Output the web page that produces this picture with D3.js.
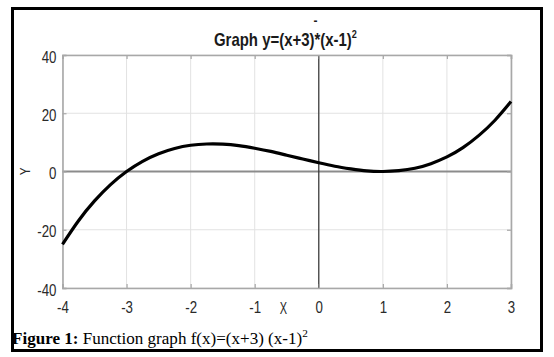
<!DOCTYPE html>
<html>
<head>
<meta charset="utf-8">
<script src="https://cdn.jsdelivr.net/npm/d3@7"></script>
<style>
  html, body { margin: 0; padding: 0; background: #fff; }
  svg { display: block; }
</style>
</head>
<body>
<svg id="chart" width="554" height="357"></svg>
<script>
// ---- data ----
const xValues = [-4, -3.75, -3.5, -3.25, -3, -2.75, -2.5, -2.25, -2, -1.75, -1.5, -1.25, -1, -0.75, -0.5, -0.25, 0, 0.25, 0.5, 0.75, 1, 1.25, 1.5, 1.75, 2, 2.25, 2.5, 2.75, 3];
const yValues = [-25, -16.9, -10.1, -4.5, 0, 3.5, 6.1, 7.9, 9, 9.45, 9.4, 8.9, 8, 6.9, 5.6, 4.3, 3, 1.8, 0.9, 0.2, 0, 0.3, 1.1, 2.7, 5, 8.2, 12.4, 17.6, 24];
const xTicks = [-4, -3, -2, -1, 0, 1, 2, 3];
const yTicks = [-40, -20, 0, 20, 40];
const titleMain = "Graph y=(x+3)*(x-1)";
const titleSup = "2";
const xLabel = "X";
const yLabel = "Y";
const captionBold = "Figure 1:";
const captionText = " Function graph f(x)=(x+3) (x-1)";
const captionSup = "2";

(function () {
const svg = d3.select("#chart");
const sans = "'Liberation Sans Narrow', 'Arial Narrow', 'Liberation Sans', Arial, sans-serif";
const NX = 0.83; // horizontal squeeze to imitate a narrow face

const pL = 62.5, pR = 511, pT = 55, pB = 288;
const x = d3.scaleLinear().domain([-4, 3]).range([pL, pR]);
const y = d3.scaleLinear().domain([-40, 40]).range([pB, pT]);

// outer frame
svg.append("rect").attr("x", 12.5).attr("y", 8.5).attr("width", 529).attr("height", 342)
  .attr("fill", "none").attr("stroke", "#000").attr("stroke-width", 3);

// grid
const g = svg.append("g");
g.selectAll(".vg").data(xTicks).join("line")
  .attr("x1", d => x(d)).attr("x2", d => x(d)).attr("y1", pT).attr("y2", pB)
  .attr("stroke", "#e2e2e2").attr("stroke-width", 1);
g.selectAll(".hg").data(yTicks).join("line")
  .attr("y1", d => y(d)).attr("y2", d => y(d)).attr("x1", pL).attr("x2", pR)
  .attr("stroke", "#e2e2e2").attr("stroke-width", 1);

// axis lines through origin
svg.append("line").attr("x1", pL).attr("x2", pR).attr("y1", y(0)).attr("y2", y(0))
  .attr("stroke", "#8c8c8c").attr("stroke-width", 2);
svg.append("line").attr("x1", x(0)).attr("x2", x(0)).attr("y1", pT).attr("y2", pB)
  .attr("stroke", "#333").attr("stroke-width", 1.2);

// axes box with inward ticks using d3 axes
const fmt = d => String(d);
const axB = d3.axisBottom(x).tickValues(xTicks).tickSize(-4).tickPadding(14).tickFormat(fmt);
const axT = d3.axisTop(x).tickValues(xTicks).tickSize(-4).tickFormat("");
const axL = d3.axisLeft(y).tickValues(yTicks).tickSize(-4).tickPadding(6).tickFormat(fmt);
const axR = d3.axisRight(y).tickValues(yTicks).tickSize(-4).tickFormat("");

function style(sel, yShift) {
  sel.select(".domain").attr("stroke", "#a8a8a8").attr("stroke-width", 1.6);
  sel.selectAll(".tick line").attr("stroke", "#a8a8a8").attr("stroke-width", 1.2);
  sel.selectAll(".tick text").attr("fill", "#2a2a2a").attr("font-family", sans).attr("font-size", 16)
    .each(function () {
      const t = d3.select(this);
      const xx = +t.attr("x") || 0;
      const yy = (+t.attr("y") || 0) + (yShift || 0);
      t.attr("x", xx / NX).attr("y", yy).attr("transform", `scale(${NX},1)`);
    });
}
svg.append("g").attr("transform", `translate(0,${pB})`).call(axB).call(style, 0);
svg.append("g").attr("transform", `translate(0,${pT})`).call(axT).call(style, 0);
svg.append("g").attr("transform", `translate(${pL},0)`).call(axL).call(style, 2);
svg.append("g").attr("transform", `translate(${pR},0)`).call(axR).call(style, 0);

// curve
const pts = xValues.map((v, i) => [v, yValues[i]]);
svg.append("path").datum(pts)
  .attr("d", d3.line().x(d => x(d[0])).y(d => y(d[1])).curve(d3.curveNatural))
  .attr("fill", "none").attr("stroke", "#000").attr("stroke-width", 3.2)
  .attr("stroke-linecap", "butt");

// title (squeezed to fit its width in the reference)
const tg = svg.append("g");
const t = tg.append("text").attr("x", 0).attr("y", 0)
  .attr("font-family", sans).attr("font-size", 18).attr("font-weight", "bold").attr("fill", "#1a1a1a");
t.append("tspan").text(titleMain);
t.append("tspan").attr("dy", -8).attr("font-size", 11).text(titleSup);
const tw = t.node().getBBox().width;
tg.attr("transform", `translate(214,46) scale(${143 / tw},1)`);
svg.append("text").attr("x", 315.5).attr("y", 25).attr("text-anchor", "middle")
  .attr("font-family", sans).attr("font-size", 12).attr("font-weight", "bold").attr("fill", "#1a1a1a").text("-");

// axis labels
svg.append("text").attr("transform", `translate(283.5,314) scale(${NX * 0.8},1)`).attr("text-anchor", "middle")
  .attr("font-family", sans).attr("font-size", 16.5).attr("fill", "#2a2a2a").text(xLabel);
svg.append("text").attr("transform", `translate(30,${y(0)}) rotate(-90) scale(${NX},1)`).attr("text-anchor", "middle")
  .attr("font-family", sans).attr("font-size", 14).attr("fill", "#2a2a2a").text(yLabel);

// caption
const c = svg.append("text").attr("x", 12).attr("y", 344)
  .attr("font-family", "'Liberation Serif', 'Times New Roman', serif").attr("font-size", 15).attr("fill", "#000");
c.append("tspan").attr("font-weight", "bold").text(captionBold);
c.append("tspan").text(captionText);
c.append("tspan").attr("dy", -6).attr("font-size", 10).text(captionSup);
const cw = c.node().getBBox().width;
const fs = 15 * 296 / cw;
c.attr("font-size", fs);
c.select("tspan:last-child").attr("font-size", fs * 0.66).attr("dy", -fs * 0.4);
})();
</script>
</body>
</html>
